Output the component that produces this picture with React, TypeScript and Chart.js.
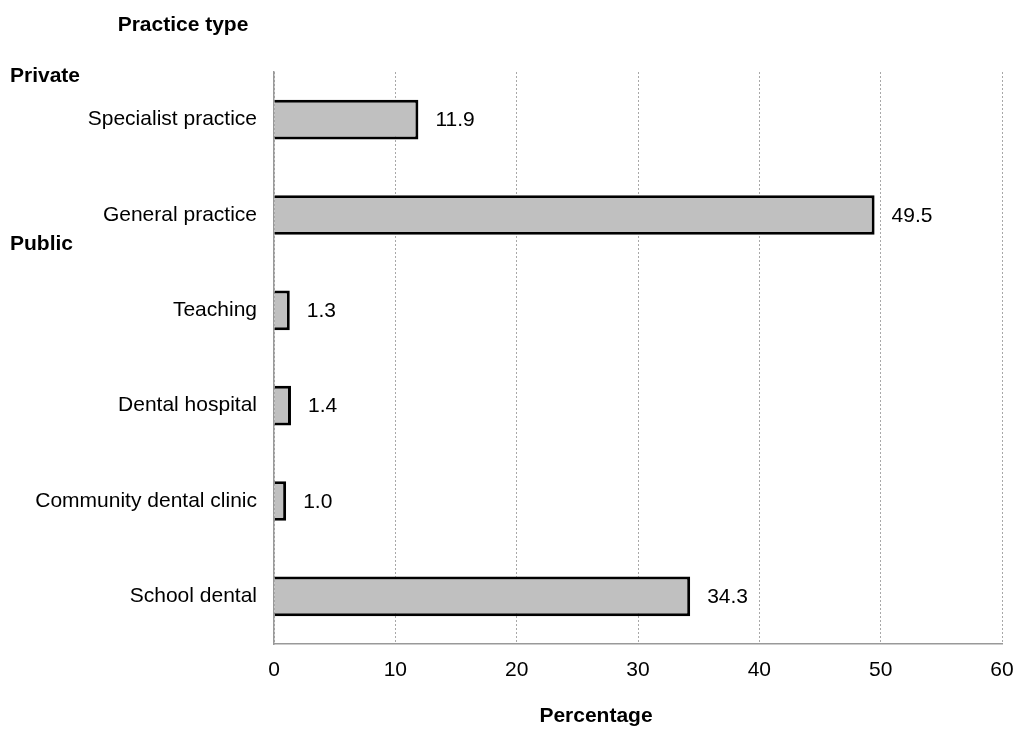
import React, { useEffect, useRef } from "react";
import { Chart, registerables } from "chart.js";

Chart.register(...registerables);

const categories = [
  "Specialist practice",
  "General practice",
  "Teaching",
  "Dental hospital",
  "Community dental clinic",
  "School dental",
];
const percentages = [11.9, 49.5, 1.3, 1.4, 1.0, 34.3];
const xTicks = [0, 10, 20, 30, 40, 50, 60];
const groupLabels = [
  { text: "Private", x: 10, y: 76 },
  { text: "Public", x: 10, y: 244 },
];
const yTitle = "Practice type";
const xTitle = "Percentage";

const FONT = "'Liberation Sans', Arial, sans-serif";
const FS = 21;

const textPlugin = {
  id: "extraText",
  afterDatasetsDraw(chart: any) {
    const ctx = chart.ctx;
    const meta = chart.getDatasetMeta(0);
    ctx.save();
    ctx.fillStyle = "#000";
    ctx.font = `${FS}px ${FONT}`;
    ctx.textAlign = "left";
    ctx.textBaseline = "middle";
    meta.data.forEach((bar: any, i: number) => {
      ctx.fillText(percentages[i].toFixed(1), bar.x + 17, bar.y + 1);
    });
    ctx.font = `bold ${FS}px ${FONT}`;
    ctx.textAlign = "center";
    ctx.fillText(yTitle, 183, 25);
    ctx.fillText(xTitle, 596, 716);
    ctx.textAlign = "left";
    groupLabels.forEach((g) => ctx.fillText(g.text, g.x, g.y));
    ctx.restore();
  },
};

export default function App() {
  const ref = useRef<HTMLCanvasElement>(null);
  useEffect(() => {
    document.body.style.margin = "0";
    const chart = new Chart(ref.current!, {
      type: "bar",
      data: {
        labels: categories,
        datasets: [
          {
            data: percentages,
            backgroundColor: "#c0c0c0",
            borderColor: "#000",
            borderWidth: 3,
            categoryPercentage: 0.8,
            barPercentage: 0.52,
          },
        ],
      },
      options: {
        indexAxis: "y",
        animation: false,
        responsive: false,
        maintainAspectRatio: false,
        layout: { padding: { top: 72, right: 17, left: 0, bottom: 0 } },
        plugins: {
          legend: { display: false },
          tooltip: { enabled: false },
        },
        scales: {
          x: {
            min: 0,
            max: 60,
            afterFit: (s: any) => {
              s.height = 110;
              s.paddingLeft = 0;
              s.paddingRight = 0;
            },
            afterBuildTicks: (s: any) => {
              s.ticks = xTicks.map((v) => ({ value: v }));
            },
            ticks: {
              color: "#000",
              font: { family: FONT, size: FS },
              padding: 14,
              maxRotation: 0,
            },
            grid: {
              color: "#a8a8a8",
              lineWidth: 1,
              drawTicks: false,
            },
            border: { color: "#999", width: 1.5, dash: [2, 2] as any },
          },
          y: {
            afterFit: (s: any) => {
              s.width = 274;
              s.paddingTop = 0;
              s.paddingBottom = 0;
            },
            ticks: {
              color: "#000",
              font: { family: FONT, size: FS },
              padding: 17,
            },
            grid: { display: false, drawTicks: false },
            border: { color: "#999", width: 1.5 },
          },
        },
      },
      plugins: [textPlugin],
    });
    return () => chart.destroy();
  }, []);
  return (
    <div style={{ position: "fixed", left: 0, top: 0, width: 1019, height: 754 }}>
      <canvas ref={ref} width={1019} height={754} style={{ width: 1019, height: 754 }} />
    </div>
  );
}
